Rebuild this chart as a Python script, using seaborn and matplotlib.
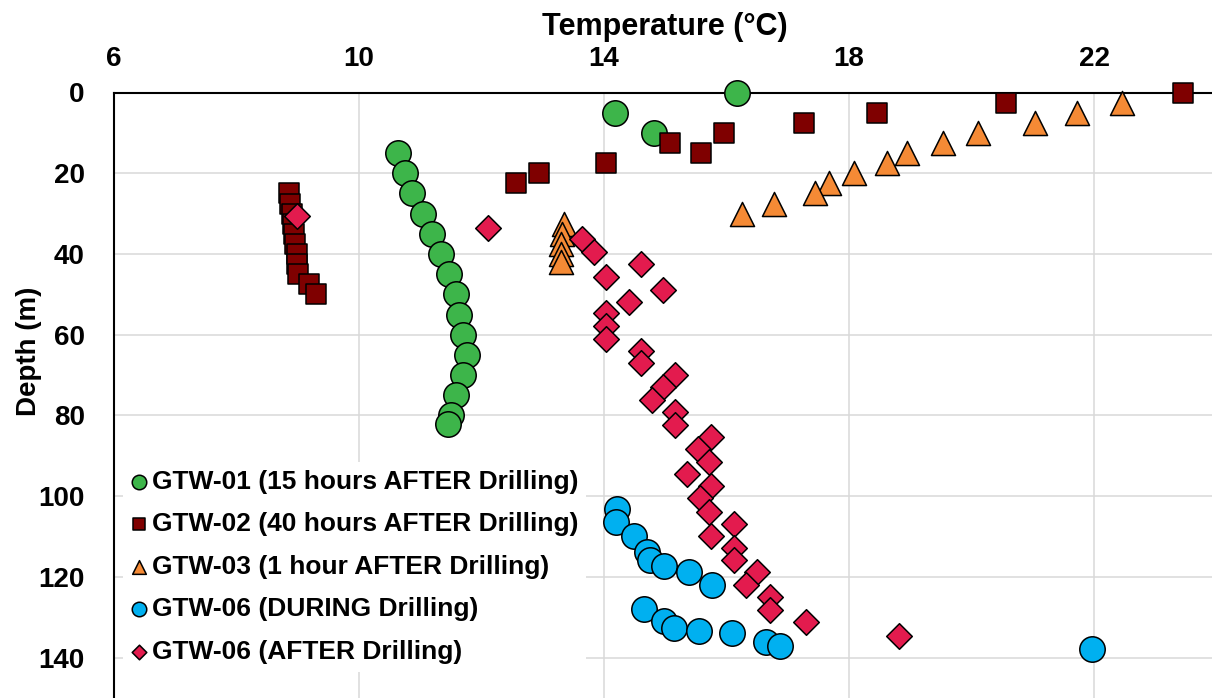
import matplotlib
matplotlib.use("Agg")
import matplotlib.pyplot as plt
import pandas as pd
import seaborn as sns

# temperature (deg C) and depth (m) for each log
gtw01_temp = [16.17, 14.18, 14.82, 10.63, 10.75, 10.86, 11.05, 11.20, 11.34, 11.47,
              11.58, 11.64, 11.69, 11.76, 11.69, 11.58, 11.51, 11.45]
gtw01_depth = [0, 5, 10, 15, 20, 25, 30, 35, 40, 45, 50, 55, 60, 65, 70, 75, 80, 82]

gtw02_temp = [23.45, 20.57, 18.45, 17.27, 15.96, 15.08, 15.58, 14.03, 12.94, 12.56,
              8.85, 8.87, 8.90, 8.92, 8.94, 8.96, 8.98, 8.99, 9.00, 9.19, 9.30]
gtw02_depth = [0, 2.5, 5, 7.5, 10, 12.5, 15, 17.5, 20, 22.5,
               25, 27.5, 30, 32.5, 35, 37.5, 40, 42.5, 45, 47.5, 50]

gtw03_temp = [22.45, 21.72, 21.04, 20.10, 19.53, 18.95, 18.62, 18.08, 17.67, 17.45,
              16.78, 16.26, 13.34, 13.32, 13.30, 13.30, 13.30]
gtw03_depth = [2.5, 5, 7.5, 10, 12.5, 15, 17.5, 20, 22.5, 25,
               27.5, 30, 32.5, 35, 37.5, 40, 42]

gtw06d_temp = [14.21, 14.20, 14.49, 14.71, 14.75, 14.98, 15.38, 15.76,
               14.65, 14.98, 15.15, 15.55, 16.09, 16.65, 16.87, 21.97]
gtw06d_depth = [103.2, 106.5, 109.8, 113.9, 115.9, 117.4, 118.9, 121.9,
                127.9, 131.0, 132.6, 133.5, 134.0, 136.2, 137.0, 137.9]

gtw06a_temp = [8.98, 12.10, 13.64, 13.83, 14.60, 14.03, 14.97, 14.41, 14.03, 14.03,
               14.04, 14.60, 14.60, 15.16, 14.97, 14.79, 15.16, 15.16, 15.74, 15.54,
               15.72, 15.36, 15.74, 15.56, 15.72, 16.13, 15.75, 16.13, 16.13, 16.50,
               16.32, 16.71, 16.71, 17.30, 18.82]
gtw06a_depth = [30.6, 33.5, 36.3, 39.6, 42.5, 45.8, 48.9, 51.8, 54.7, 57.8,
                61.1, 64.0, 67.0, 69.9, 73.0, 76.3, 79.2, 82.3, 85.3, 88.3,
                91.5, 94.5, 97.4, 100.4, 103.8, 106.8, 109.9, 112.8, 115.9, 118.9,
                121.9, 124.9, 128.1, 131.2, 134.6]

labels = ["GTW-01 (15 hours AFTER Drilling)",
          "GTW-02 (40 hours AFTER Drilling)",
          "GTW-03 (1 hour AFTER Drilling)",
          "GTW-06 (DURING Drilling)",
          "GTW-06 (AFTER Drilling)"]

sns.set_theme(style="white")
plt.rcParams["font.family"] = ["Liberation Sans", "DejaVu Sans"]
plt.rcParams["font.weight"] = "bold"
plt.rcParams["axes.labelweight"] = "bold"
plt.rcParams["text.color"] = "black"
plt.rcParams["axes.labelcolor"] = "black"
plt.rcParams["xtick.color"] = "black"
plt.rcParams["ytick.color"] = "black"

fig = plt.figure(figsize=(12.12, 6.98), dpi=100)
ax = fig.add_axes([114 / 1212, 0, 1102.5 / 1212, 605.5 / 698])

styles = [
    (gtw01_temp, gtw01_depth, "o", "#3DB54A", 335),
    (gtw02_temp, gtw02_depth, "s", "#7F0000", 225),
    (gtw03_temp, gtw03_depth, "^", "#F58A35", 300),
    (gtw06d_temp, gtw06d_depth, "o", "#00B0F0", 335),
    (gtw06a_temp, gtw06a_depth, "D", "#E31B4E", 170),
]

for lab, (t, d, mk, col, s) in zip(labels, styles):
    df = pd.DataFrame({"temp": t, "depth": d})
    sns.scatterplot(data=df, x="temp", y="depth", ax=ax, marker=mk, color=col,
                    s=s, edgecolor="black", linewidth=1.1, label=lab,
                    clip_on=False, zorder=5)

ax.set_xlim(6, 24)
ax.set_ylim(150, 0)
ax.set_xticks([6, 10, 14, 18, 22])
ax.set_yticks(range(0, 141, 20))
ax.xaxis.tick_top()
ax.xaxis.set_label_position("top")
ax.tick_params(axis="both", length=0, labelsize=20, labelcolor="black")
ax.tick_params(axis="x", pad=15)
ax.tick_params(axis="y", pad=21)
ax.grid(True, color="#D9D9D9", linewidth=1.1)
ax.set_axisbelow(True)
for side in ["bottom", "right"]:
    ax.spines[side].set_visible(False)
for side in ["top", "left"]:
    ax.spines[side].set_color("black")
    ax.spines[side].set_linewidth(1.5)

ax.set_xlabel("Temperature (°C)", fontsize=22, labelpad=8, color="black")
ax.set_ylabel("Depth (m)", fontsize=20, color="black")
ax.yaxis.set_label_coords(-0.065, 0.573)

leg = ax.legend(loc="upper left", bbox_to_anchor=(0.008, 0.39), fontsize=19,
                markerscale=0.57, handlelength=0.6, handletextpad=0.2,
                labelspacing=0.7, borderpad=0.3, borderaxespad=0,
                frameon=True, fancybox=False)
leg.get_frame().set_facecolor("white")
leg.get_frame().set_edgecolor("none")
leg.get_frame().set_alpha(1)
leg.set_zorder(6)
for txt in leg.get_texts():
    txt.set_color("black")

fig.savefig("out.png", dpi=100)
